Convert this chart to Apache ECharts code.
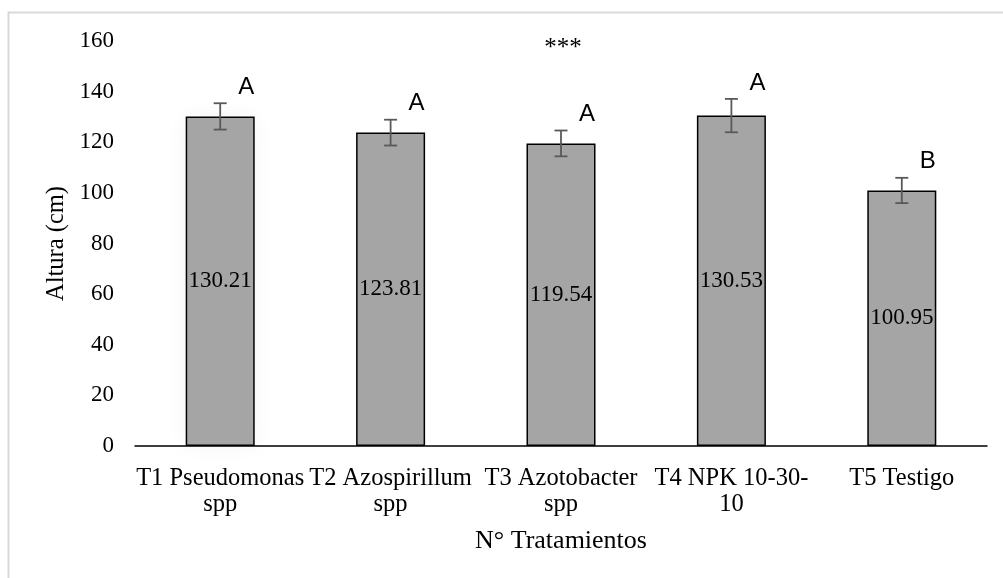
<!DOCTYPE html>
<html>
<head>
<meta charset="utf-8">
<script src="https://cdn.jsdelivr.net/npm/echarts@6/dist/echarts.min.js"></script>
<style>html,body{margin:0;padding:0;background:#fff}#c{width:1003px;height:578px}</style>
</head>
<body>
<div id="c"></div>
<script>
const categories = ['T1 Pseudomonas\nspp', 'T2 Azospirillum\nspp', 'T3 Azotobacter\nspp', 'T4 NPK 10-30-\n10', 'T5 Testigo'];
const means = [130.21, 123.81, 119.54, 130.53, 100.95];
const errors = [5.2, 5.1, 5.1, 6.6, 5.0];
const letters = ['A', 'A', 'A', 'A', 'B'];
const yTicks = [0, 20, 40, 60, 80, 100, 120, 140, 160];

const serif = '"Liberation Serif", "Times New Roman", serif';
const sans = '"Liberation Sans", Arial, sans-serif';

const chart = echarts.init(document.getElementById('c'));
chart.setOption({
  animation: false,
  backgroundColor: '#fff',
  graphic: [
    { type: 'rect', left: 6, top: 10, shape: { width: 1010, height: 600 }, style: { fill: 'none', stroke: '#d9d9d9', lineWidth: 2 }, silent: true, z: -10 },
    { type: 'text', x: 563, y: 48, style: { text: '***', font: '25px ' + serif, fill: '#000', align: 'center', verticalAlign: 'middle' } }
  ],
  grid: { left: 135, right: 16, top: 41, bottom: 132 },
  xAxis: {
    type: 'category',
    data: categories,
    name: 'N° Tratamientos',
    nameLocation: 'middle',
    nameGap: 82,
    nameTextStyle: { fontFamily: serif, fontSize: 26, color: '#000' },
    axisLine: { lineStyle: { color: '#000', width: 1.5 } },
    axisTick: { show: false },
    axisLabel: { interval: 0, fontFamily: serif, fontSize: 24.5, color: '#000', lineHeight: 26, margin: 20 }
  },
  yAxis: {
    type: 'value',
    min: yTicks[0],
    max: yTicks[yTicks.length - 1],
    interval: 20,
    name: 'Altura (cm)',
    nameLocation: 'middle',
    nameGap: 66,
    nameTextStyle: { fontFamily: serif, fontSize: 24.5, color: '#000' },
    axisLine: { show: false },
    axisTick: { show: false },
    splitLine: { show: false },
    axisLabel: { fontFamily: serif, fontSize: 23, color: '#000', margin: 21 }
  },
  series: [
    {
      type: 'bar',
      data: means.map((v, i) => i === 0 ? { value: v, itemStyle: { shadowBlur: 22, shadowColor: 'rgba(0,0,0,0.05)' } } : v),
      barWidth: '40.5%',
      itemStyle: { color: '#a5a5a5', borderColor: '#000', borderWidth: 1.5 },
      label: { show: true, position: 'inside', fontFamily: serif, fontSize: 23, color: '#000', formatter: p => p.value.toFixed(2) }
    },
    {
      type: 'custom',
      data: means.map((m, i) => [i, m, errors[i], letters[i]]),
      z: 10,
      renderItem: function (params, api) {
        const i = api.value(0), m = api.value(1), e = api.value(2);
        const top = api.coord([i, m + e]);
        const bot = api.coord([i, m - e]);
        const x = top[0];
        const cw = 6.5;
        const st = { stroke: '#595959', lineWidth: 1.8 };
        return {
          type: 'group',
          children: [
            { type: 'line', shape: { x1: x, y1: top[1], x2: x, y2: bot[1] }, style: st },
            { type: 'line', shape: { x1: x - cw, y1: top[1], x2: x + cw, y2: top[1] }, style: st },
            { type: 'line', shape: { x1: x - cw, y1: bot[1], x2: x + cw, y2: bot[1] }, style: st },
            { type: 'text', x: x + 26, y: top[1] - 16, style: { text: letters[params.dataIndex], font: '24px ' + sans, fill: '#000', align: 'center', verticalAlign: 'middle' } }
          ]
        };
      }
    }
  ]
});
</script>
</body>
</html>
